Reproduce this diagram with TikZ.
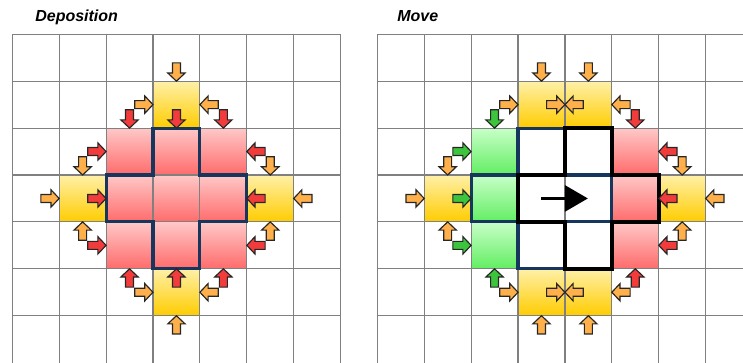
\documentclass[tikz,border=0pt]{standalone}
\usepackage{fontspec}
\setmainfont{Liberation Sans}
\definecolor{GridGray}{HTML}{808080}
\definecolor{NavyLine}{HTML}{17365D}
\definecolor{RedTop}{HTML}{FFC8C8}
\definecolor{RedBot}{HTML}{FF6B6B}
\definecolor{YelTop}{HTML}{FFF0A8}
\definecolor{YelBot}{HTML}{FFCC00}
\definecolor{GrnTop}{HTML}{C8FFC8}
\definecolor{GrnBot}{HTML}{62EE62}
\definecolor{ArrOrange}{HTML}{FFB04A}
\definecolor{ArrRed}{HTML}{F23C3C}
\definecolor{ArrGreen}{HTML}{3CC43C}
\usetikzlibrary{arrows.meta}

\tikzset{
  blk/.pic={\filldraw[line width=0.7pt, draw=black!85, fill=#1, line join=miter]
    (0,0) -- (-0.175,0.185) -- (-0.175,0.085) -- (-0.39,0.085) -- (-0.39,-0.085)
    -- (-0.175,-0.085) -- (-0.175,-0.185) -- cycle;},
  title/.style={font=\fontsize{9.7}{11}\selectfont\bfseries\itshape, anchor=base west, inner sep=0pt},
  gridline/.style={GridGray, line width=0.7pt},
  navyline/.style={NavyLine, line width=1.9pt},
  blackline/.style={black, line width=2.4pt},
}

\begin{document}
\begin{tikzpicture}
  \useasboundingbox (0,0) rectangle (15.842,-7.719);
  \clip (0,0) rectangle (15.842,-7.719);

  % Titles
  \node[title] (deptitle) at (0.746,-0.448) {Deposition};
  \node[title] (movetitle) at (8.465,-0.448) {Move};

  % ---- Deposition ----
  \begin{scope}[shift={(0.262,-0.731)}]
    % Cells
    \foreach \c/\r in {3/1, 1/3, 5/3, 3/5}
      \shade[top color=YelTop, bottom color=YelBot] (\c,-\r) rectangle ++(1,-1);
    \foreach \c in {2,3,4}
      \foreach \r in {2,3,4}
        \shade[top color=RedTop, bottom color=RedBot] (\c,-\r) rectangle ++(1,-1);

    % Grid
    \foreach \i in {0,...,7}
      \draw[gridline] (\i,0) -- (\i,-7.2);
    \foreach \j in {0,...,6}
      \draw[gridline] (0,-\j) -- (7,-\j);

    % Outline of the cross
    \draw[navyline] (3,-2) -- (4,-2) -- (4,-3) -- (5,-3) -- (5,-4) -- (4,-4) -- (4,-5)
      -- (3,-5) -- (3,-4) -- (2,-4) -- (2,-3) -- (3,-3) -- cycle;

    % Arrows
    \foreach \x/\y/\a in {3.5/-1/-90, 3/-1.5/0, 4/-1.5/180, 1.5/-3/-90, 1/-3.5/0, 1.5/-4/90,
        5.5/-3/-90, 6/-3.5/180, 5.5/-4/90, 3/-5.5/0, 4/-5.5/180, 3.5/-6/90}
      \path (\x,\y) pic[rotate=\a] {blk=ArrOrange};
    \foreach \x/\y/\a in {2.5/-2/-90, 2/-2.5/0, 3.5/-2/-90, 4.5/-2/-90, 5/-2.5/180, 2/-3.5/0,
        5/-3.5/180, 2/-4.5/0, 2.5/-5/90, 3.5/-5/90, 5/-4.5/180, 4.5/-5/90}
      \path (\x,\y) pic[rotate=\a] {blk=ArrRed};
  \end{scope}

  % ---- Move ----
  \begin{scope}[shift={(8.045,-0.731)}]
    % Cells
    \foreach \c/\r in {3/1, 4/1, 1/3, 6/3, 3/5, 4/5}
      \shade[top color=YelTop, bottom color=YelBot] (\c,-\r) rectangle ++(1,-1);
    \foreach \r in {2,3,4} {
      \shade[top color=GrnTop, bottom color=GrnBot] (2,-\r) rectangle ++(1,-1);
      \shade[top color=RedTop, bottom color=RedBot] (5,-\r) rectangle ++(1,-1);
    }

    % Grid
    \foreach \i in {0,...,7}
      \draw[gridline] (\i,0) -- (\i,-7.2);
    \foreach \j in {0,...,6}
      \draw[gridline] (0,-\j) -- (8,-\j);

    % Old and new cross
    \draw[navyline] (3,-2) -- (4,-2) -- (4,-3) -- (5,-3) -- (5,-4) -- (4,-4) -- (4,-5)
      -- (3,-5) -- (3,-4) -- (2,-4) -- (2,-3) -- (3,-3) -- cycle;
    \draw[blackline] (4,-2) -- (5,-2) -- (5,-3) -- (6,-3) -- (6,-4) -- (5,-4) -- (5,-5)
      -- (4,-5) -- (4,-4) -- (3,-4) -- (3,-3) -- (4,-3) -- cycle;

    % Direction of the move
    \draw[line width=2pt, -{Triangle[length=0.49cm, width=0.55cm]}] (3.49,-3.5) -- (4.49,-3.5);

    % Arrows
    \foreach \x/\y/\a in {3.5/-1/-90, 4.5/-1/-90, 3/-1.5/0, 4/-1.5/0, 4/-1.5/180, 5/-1.5/180,
        1.5/-3/-90, 1/-3.5/0, 1.5/-4/90, 6.5/-3/-90, 7/-3.5/180, 6.5/-4/90,
        3/-5.5/0, 4/-5.5/0, 4/-5.5/180, 5/-5.5/180, 3.5/-6/90, 4.5/-6/90}
      \path (\x,\y) pic[rotate=\a] {blk=ArrOrange};
    \foreach \x/\y/\a in {2.5/-2/-90, 2/-2.5/0, 2/-3.5/0, 2/-4.5/0, 2.5/-5/90}
      \path (\x,\y) pic[rotate=\a] {blk=ArrGreen};
    \foreach \x/\y/\a in {5.5/-2/-90, 6/-2.5/180, 6/-3.5/180, 6/-4.5/180, 5.5/-5/90}
      \path (\x,\y) pic[rotate=\a] {blk=ArrRed};
  \end{scope}
\end{tikzpicture}
\end{document}
